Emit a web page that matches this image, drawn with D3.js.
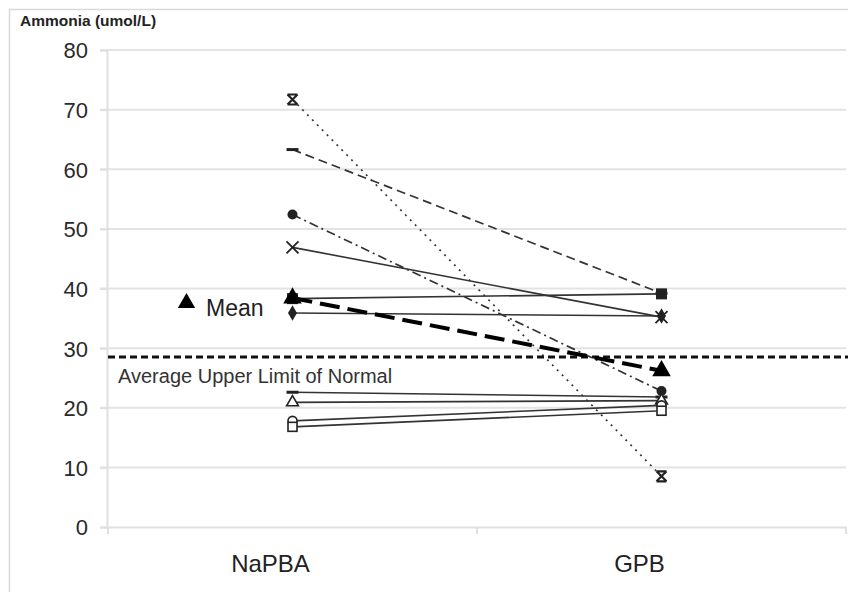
<!DOCTYPE html>
<html>
<head>
<meta charset="utf-8">
<script src="https://cdn.jsdelivr.net/npm/d3@7"></script>
<style>
  html, body { margin: 0; padding: 0; background: #fff; }
  svg { display: block; font-family: "Liberation Sans", Arial, sans-serif; }
</style>
</head>
<body>
<svg id="chart" width="848" height="592"></svg>
<script>
// Ammonia levels per subject under NaPBA and GPB treatment
const categories = ["NaPBA", "GPB"];
const yTicks = [0, 10, 20, 30, 40, 50, 60, 70, 80];
const napbaValues = [71.7, 63.3, 52.4, 46.9, 38.3, 35.9, 22.6, 20.9, 17.8, 16.8];
const gpbValues   = [8.5, 39.2, 22.8, 35.2, 39.1, 35.4, 21.8, 21.2, 20.4, 19.5];
const meanValues  = [38.4, 26.2];
const upperNormal = 28.5;

// Per-subject drawing style: marker shape and line dash
const subjectStyles = [
  { marker: "xbar",     dash: "2,5" },
  { marker: "dash",     dash: "9,5" },
  { marker: "circle",   dash: "9,4,2,4" },
  { marker: "cross",    dash: null },
  { marker: "square",   dash: null },
  { marker: "diamond",  dash: null },
  { marker: "dash",     dash: null },
  { marker: "triangleOpen", dash: null },
  { marker: "circleOpen",   dash: null },
  { marker: "squareOpen",   dash: null }
];

const svg = d3.select("#chart");
const FONT = "Liberation Sans, Arial, sans-serif";

const x = d3.scaleBand().domain(categories).range([108, 846]).padding(0);
const y = d3.scaleLinear().domain([0, 80]).range([527, 50]);
const cx = c => x(c) + x.bandwidth() / 2;

// outer frame
svg.append("rect").attr("x", 9.5).attr("y", 9.5).attr("width", 860).attr("height", 600)
  .attr("fill", "none").attr("stroke", "#d9d9d9").attr("stroke-width", 1.5);

// y label
svg.append("text").attr("x", 20).attr("y", 26).attr("font-size", 15.5).attr("font-weight", "bold")
  .attr("fill", "#222").text("Ammonia (umol/L)");

// gridlines
svg.append("g").selectAll("line").data(yTicks.filter(t => t > 0)).join("line")
  .attr("x1", 100).attr("x2", 846).attr("y1", d => y(d)).attr("y2", d => y(d))
  .attr("stroke", "#e3e3e3").attr("stroke-width", 2);

// y axis
const yAxis = d3.axisLeft(y).tickValues(yTicks).tickSize(7).tickPadding(12);
const gy = svg.append("g").attr("transform", "translate(107,0)").call(yAxis);
gy.select(".domain").attr("stroke", "#e0e0e0").attr("stroke-width", 2);
gy.selectAll(".tick line").attr("stroke", "#e0e0e0").attr("stroke-width", 2);
gy.selectAll(".tick text").attr("font-size", 22).attr("fill", "#2a2a2a")
  .attr("font-family", FONT).attr("dy", "0.36em");

// x axis
const xAxis = d3.axisBottom(x).tickSize(0).tickPadding(28);
const gx = svg.append("g").attr("transform", "translate(0,527)").call(xAxis);
gx.select(".domain").attr("stroke", "#e0e0e0").attr("stroke-width", 2);
gx.selectAll(".tick text").attr("font-size", 24).attr("fill", "#222")
  .attr("font-family", FONT).attr("dx", -22);
// category boundary ticks
svg.append("g").selectAll("line").data([108, 477, 846]).join("line")
  .attr("x1", d => d).attr("x2", d => d).attr("y1", 527).attr("y2", 534)
  .attr("stroke", "#e0e0e0").attr("stroke-width", 2);

// upper limit of normal
svg.append("line").attr("x1", 108).attr("x2", 848)
  .attr("y1", y(upperNormal)).attr("y2", y(upperNormal))
  .attr("stroke", "#111").attr("stroke-width", 3).attr("stroke-dasharray", "7,4");
svg.append("text").attr("x", 118).attr("y", 383).attr("font-size", 20)
  .attr("fill", "#333").text("Average Upper Limit of Normal");

// marker drawing
function drawMarker(g, type, px, py) {
  const col = "#222";
  switch (type) {
    case "xbar":
      g.append("path").attr("d", `M${px-5},${py-5}L${px+5},${py+5}M${px+5},${py-5}L${px-5},${py+5}M${px-5},${py-5}H${px+5}M${px-5},${py+5}H${px+5}`)
        .attr("stroke", col).attr("stroke-width", 2.2).attr("fill", "none");
      break;
    case "dash":
      g.append("line").attr("x1", px - 6).attr("x2", px + 6).attr("y1", py).attr("y2", py)
        .attr("stroke", col).attr("stroke-width", 3);
      break;
    case "cross":
      g.append("path").attr("d", `M${px-6},${py-6}L${px+6},${py+6}M${px+6},${py-6}L${px-6},${py+6}`)
        .attr("stroke", col).attr("stroke-width", 1.8).attr("fill", "none");
      break;
    case "circle":
      g.append("circle").attr("cx", px).attr("cy", py).attr("r", 5).attr("fill", col);
      break;
    case "square":
      g.append("rect").attr("x", px - 5.5).attr("y", py - 5.5).attr("width", 11).attr("height", 11).attr("fill", col);
      break;
    case "diamond":
      g.append("path").attr("d", d3.symbol(d3.symbolDiamond, 70)()).attr("transform", `translate(${px},${py})`).attr("fill", col);
      break;
    case "triangleOpen":
      g.append("path").attr("d", d3.symbol(d3.symbolTriangle, 60)()).attr("transform", `translate(${px},${py})`)
        .attr("fill", "#fff").attr("stroke", col).attr("stroke-width", 1.6);
      break;
    case "circleOpen":
      g.append("circle").attr("cx", px).attr("cy", py).attr("r", 4.5).attr("fill", "#fff").attr("stroke", col).attr("stroke-width", 1.6);
      break;
    case "squareOpen":
      g.append("rect").attr("x", px - 4.5).attr("y", py - 4.5).attr("width", 9).attr("height", 9)
        .attr("fill", "#fff").attr("stroke", col).attr("stroke-width", 1.6);
      break;
  }
}

// subject lines
const lineGen = d3.line().x(d => d[0]).y(d => d[1]);
const subjects = svg.append("g");
napbaValues.forEach((v0, i) => {
  const v1 = gpbValues[i];
  const pts = [[cx(categories[0]), y(v0)], [cx(categories[1]), y(v1)]];
  const st = subjectStyles[i];
  subjects.append("path").attr("d", lineGen(pts)).attr("fill", "none")
    .attr("stroke", "#333").attr("stroke-width", st.dash ? 1.7 : 1.6)
    .attr("stroke-dasharray", st.dash);
});
napbaValues.forEach((v0, i) => {
  const st = subjectStyles[i];
  drawMarker(subjects, st.marker, cx(categories[0]), y(v0));
  drawMarker(subjects, st.marker, cx(categories[1]), y(gpbValues[i]));
});

// mean line
const meanPts = meanValues.map((v, i) => [cx(categories[i]), y(v)]);
svg.append("path").attr("d", lineGen(meanPts)).attr("fill", "none")
  .attr("stroke", "#000").attr("stroke-width", 4).attr("stroke-dasharray", "20,8");
const tri = d3.symbol(d3.symbolTriangle, 150);
svg.append("g").selectAll("path").data(meanPts).join("path")
  .attr("d", tri).attr("transform", d => `translate(${d[0]},${d[1]})`).attr("fill", "#000");

// mean legend
svg.append("path").attr("d", d3.symbol(d3.symbolTriangle, 130)())
  .attr("transform", "translate(186.5,303)").attr("fill", "#000");
svg.append("text").attr("x", 206).attr("y", 316).attr("font-size", 23)
  .attr("fill", "#222").text("Mean");
</script>
</body>
</html>
